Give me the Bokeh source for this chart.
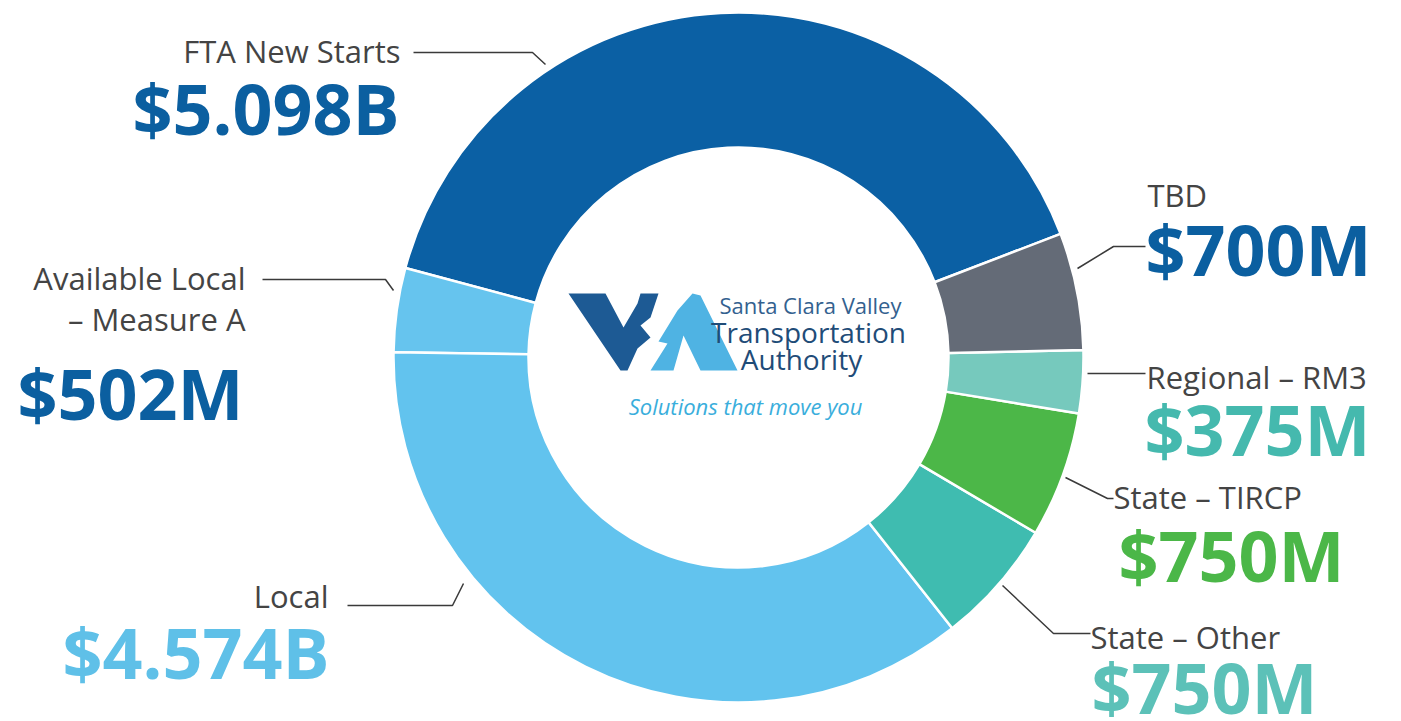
import math
from bokeh.plotting import figure
from bokeh.models import Range1d, ColumnDataSource
from bokeh.core.properties import value
from bokeh.embed import file_html
from bokeh.resources import INLINE

# ---------------- data (counter-clockwise from the FTA / TBD boundary) ----------------
segments = ["FTA New Starts", "Available Local – Measure A", "Local",
            "State – Other", "State – TIRCP", "Regional – RM3", "TBD"]
amounts_musd = [5098, 502, 4574, 750, 750, 375, 700]
amount_labels = ["$5.098B", "$502M", "$4.574B", "$750M", "$750M", "$375M", "$700M"]
label_lines = [["FTA New Starts"], ["Available Local", "– Measure A"], ["Local"],
               ["State – Other"], ["State – TIRCP"], ["Regional – RM3"], ["TBD"]]

# ---------------- styles ----------------
slice_colors = ["#0b60a4", "#66c4ee", "#62c3ee", "#3fbcb0", "#4cb748", "#76c9bd", "#646b77"]
amount_colors = ["#0b5fa0", "#0b5fa0", "#5fc0e8", "#5cc1b8", "#4bb748", "#45b9ae", "#0b5fa0"]

W, H = 1395, 717
def Y(sy):  # screen y (page px) -> data y
    return 721 - sy

CX, CY = 738, Y(357)
R_OUT, R_IN = 345, 210
START_DEG = 21.0

# label layout: (align, name x, name ys, amount x, amount y, leader points)
layout = [
    ("right", 400, [50], 399, 107, [(413, 52), (532, 52), (545, 64)]),
    ("right", 245, [277, 318], 243, 392, [(262, 279), (385, 279), (393, 290)]),
    ("right", 328, [595], 329, 651, [(347, 605), (452, 605), (463, 583)]),
    ("left", 1090, [636], 1091, 686, [(1002, 585), (1053, 633), (1090, 633)]),
    ("left", 1113, [496], 1118, 554, [(1065, 477), (1107, 498), (1113, 498)]),
    ("left", 1146, [376], 1144, 428, [(1087, 373), (1145, 373)]),
    ("left", 1147, [194], 1145, 248, [(1077, 268), (1113, 246), (1145, 246)]),
]

p = figure(width=W, height=H, x_range=Range1d(0, W), y_range=Range1d(Y(H), Y(0)),
           x_axis_type=None, y_axis_type=None, output_backend="svg",
           toolbar_location=None, min_border=0)
p.grid.visible = False
p.outline_line_color = None
p.background_fill_color = "white"
p.border_fill_color = "white"

# ---------------- donut ----------------
total = float(sum(amounts_musd))
starts, ends = [], []
acc = math.radians(START_DEG)
for a in amounts_musd:
    starts.append(acc)
    acc += a / total * 2 * math.pi
    ends.append(acc)

src = ColumnDataSource(dict(segment=segments, amount=amounts_musd, start=starts, end=ends,
                            color=slice_colors))
p.annular_wedge(x=CX, y=CY, inner_radius=R_IN, outer_radius=R_OUT,
                inner_radius_units="screen", outer_radius_units="screen",
                start_angle="start", end_angle="end", direction="anticlock",
                fill_color="color", line_color="white", line_width=2.5, source=src)

# ---------------- leaders & labels ----------------
lx, ly = [], []
nx, ny, nt, na = [], [], [], []
ax, ay, at, aa, ac = [], [], [], [], []
for i, (align, xn, yns, xa, ya, pts) in enumerate(layout):
    lx.append([q[0] for q in pts])
    ly.append([Y(q[1]) for q in pts])
    for line, yy in zip(label_lines[i], yns):
        nx.append(xn); ny.append(Y(yy)); nt.append(line); na.append(align)
    ax.append(xa); ay.append(Y(ya)); at.append(amount_labels[i]); aa.append(align)
    ac.append(amount_colors[i])

p.multi_line(xs=lx, ys=ly, line_color="#3a3a3a", line_width=1.5)

p.text(x="x", y="y", text="t", text_align="a", source=ColumnDataSource(dict(x=nx, y=ny, t=nt, a=na)),
       text_font=value("Open Sans"), text_font_size="31px", text_color="#444444",
       text_baseline="middle")
p.text(x="x", y="y", text="t", text_align="a", text_color="c",
       source=ColumnDataSource(dict(x=ax, y=ay, t=at, a=aa, c=ac)),
       text_font=value("Open Sans"), text_font_style="bold", text_font_size="70px",
       text_baseline="middle")

# ---------------- centre logo (decorative) ----------------
v_shape = [(568, 293), (605, 293), (623, 327), (637, 303), (640, 293), (658, 293), (650, 317),
           (640, 325), (650, 337), (637, 348), (627, 370), (620, 370)]
a_shape = [(650, 370), (667, 343), (658, 341), (677, 310), (692, 293), (700, 295), (737, 370),
           (700, 370), (683, 335), (673, 370)]
p.patches(xs=[[q[0] for q in v_shape], [q[0] for q in a_shape]],
          ys=[[Y(q[1]) for q in v_shape], [Y(q[1]) for q in a_shape]],
          fill_color=["#1d5a94", "#4fb3e3"], line_color=None)

p.text(x=[810], y=[Y(304)], text=["Santa Clara Valley"], text_align="center", text_baseline="middle",
       text_font=value("Open Sans"), text_font_size="22px", text_color="#33618f")
p.text(x=[808, 801], y=[Y(331), Y(358)], text=["Transportation", "Authority"], text_align="center",
       text_baseline="middle", text_font=value("Open Sans"), text_font_size="28px", text_color="#1f4c78")
p.text(x=[745], y=[Y(405)], text=["Solutions that move you"], text_align="center", text_baseline="middle",
       text_font=value("Open Sans"), text_font_style="italic", text_font_size="22px", text_color="#3aaedc")

open("out.html", "w").write(file_html(p, INLINE))
